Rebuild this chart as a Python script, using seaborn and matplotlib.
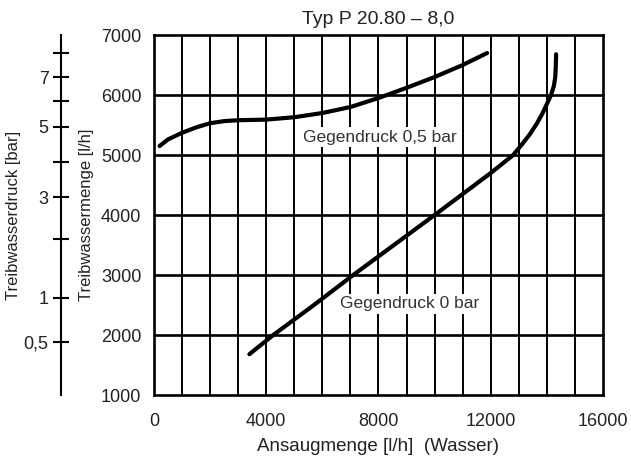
import numpy as np
import pandas as pd
import matplotlib
matplotlib.use("Agg")
import matplotlib.pyplot as plt
import seaborn as sns

x_05bar = [200, 500, 1000, 1500, 2000, 2500, 3000, 3500, 4000, 5000, 6000, 7000,
           8000, 9000, 10000, 11000, 11870]
y_05bar = [5150, 5260, 5370, 5460, 5530, 5565, 5580, 5585, 5590, 5630, 5700, 5800,
           5950, 6120, 6300, 6500, 6700]

x_0bar = [3400, 4250, 5700, 7100, 8550, 10000, 11000, 12000, 12400, 12800, 13100,
          13400, 13650, 13850, 14000, 14150, 14250, 14300, 14320, 14330]
y_0bar = [1680, 2000, 2500, 3000, 3500, 4000, 4350, 4700, 4850, 5000, 5170,
          5350, 5530, 5700, 5850, 6000, 6150, 6300, 6500, 6680]

# Druckskala links (bar) und zugehoerige Position auf der Mengenachse
druck_pos = [6700, 6300, 5900, 5470, 4880, 4300, 3600, 2620, 1880]
druck_lbl = ['', '7', '', '5', '', '3', '', '1', '0,5']

x_ticks = [0, 4000, 8000, 12000, 16000]
y_ticks = [1000, 2000, 3000, 4000, 5000, 6000, 7000]

df = pd.concat([
    pd.DataFrame({'x': x_05bar, 'y': y_05bar, 'kurve': '0,5 bar'}),
    pd.DataFrame({'x': x_0bar, 'y': y_0bar, 'kurve': '0 bar'}),
])

sns.set_style("white")
plt.rcParams['font.family'] = ['Liberation Sans', 'DejaVu Sans']
txt = '#222222'

fig = plt.figure(figsize=(6.31, 4.59), dpi=100)
pos = [0.244, 0.1394, 0.7116, 0.7843]
ax = fig.add_axes(pos)

# Gitter
for gx in range(1000, 16000, 1000):
    ax.axvline(gx, color='black', lw=1.4, zorder=1)
for gy in range(2000, 7000, 1000):
    ax.axhline(gy, color='black', lw=1.9, zorder=1)

sns.lineplot(data=df, x='x', y='y', hue='kurve', units='kurve', estimator=None,
             sort=False, palette=['black', 'black'], linewidth=3, legend=False,
             ax=ax, zorder=3)

ax.set_xlim(0, 16000)
ax.set_ylim(1000, 7000)
ax.set_xticks(range(0, 16001, 2000))
ax.set_xticklabels([str(v) if v in x_ticks else '' for v in range(0, 16001, 2000)])
ax.set_yticks(y_ticks)
ax.set_yticklabels([str(v) for v in y_ticks])
ax.tick_params(axis='x', direction='out', length=8, width=1.5, colors='black',
               labelcolor=txt, labelsize=13, pad=5)
ax.tick_params(axis='y', direction='out', length=6, width=1.5, colors='black',
               labelcolor=txt, labelsize=13, pad=3)
for s in ax.spines.values():
    s.set_color('black')
    s.set_linewidth(1.9)

ax.set_xlabel('Ansaugmenge [l/h]  (Wasser)', fontsize=13.5, color=txt, labelpad=6)
ax.set_ylabel('Treibwassermenge [l/h]', fontsize=12, color=txt, labelpad=5)
ax.set_title('Typ P 20.80 – 8,0', fontsize=14, color=txt, pad=8)

box = dict(facecolor='white', edgecolor='none', pad=2)
ax.text(8050, 5300, 'Gegendruck 0,5 bar', ha='center', va='center',
        fontsize=12.5, color='#333333', bbox=box, zorder=4)
ax.text(9100, 2520, 'Gegendruck 0 bar', ha='center', va='center',
        fontsize=12.5, color='#333333', bbox=box, zorder=4)

# zweite Skala: Treibwasserdruck
ax2 = fig.add_axes(pos, label='druck')
ax2.patch.set_visible(False)
ax2.set_ylim(1000, 7000)
ax2.set_xticks([])
for name in ['top', 'right', 'bottom']:
    ax2.spines[name].set_visible(False)
ax2.spines['left'].set_position(('axes', -0.207))
ax2.spines['left'].set_color('black')
ax2.spines['left'].set_linewidth(1.5)
ax2.yaxis.set_ticks_position('left')
ax2.set_yticks(druck_pos)
ax2.set_yticklabels(druck_lbl)
ax2.tick_params(axis='y', direction='inout', length=12, width=1.5, colors='black',
                labelcolor=txt, labelsize=13, pad=3)
ax2.set_ylabel('Treibwasserdruck [bar]', fontsize=12, color=txt, labelpad=2)

fig.savefig('out.png', dpi=100)
